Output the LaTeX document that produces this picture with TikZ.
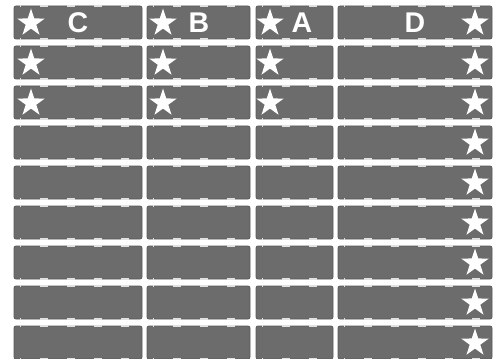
\documentclass[tikz,border=0pt]{standalone}
\usepackage{fontspec}
\setmainfont{Liberation Sans}
\usetikzlibrary{shapes.geometric}
\definecolor{tilefill}{RGB}{108,108,108}
\definecolor{tileedge}{RGB}{90,90,90}
\definecolor{notchcol}{RGB}{225,225,225}
\tikzset{
  tile/.style={fill=tilefill, draw=tileedge, line width=0.8pt, rounded corners=2pt},
  notch/.style={draw=notchcol, line width=1.8pt, dash pattern=on 8pt off 19pt, dash phase=-20pt},
  wstar/.style={star, star points=5, star point ratio=2.6, fill=white, minimum size=29pt, inner sep=0pt},
  lbl/.style={text=white, font=\fontsize{28.5}{28.5}\selectfont\bfseries, inner sep=0pt, anchor=base},
}
\begin{document}
\begin{tikzpicture}[x=1pt,y=-1pt]
\useasboundingbox (0,0) rectangle (502,358);
\clip (0,0) rectangle (502,358);
\fill[white] (0,0) rectangle (502,358);
\foreach \r in {0,...,8} {
  \foreach \xa/\xb/\c in {14/142/C,147/250/B,256/333/A,338/492/D} {
    \path[tile] (\xa,6+40*\r) rectangle (\xb,39+40*\r);
    \path[notch] (\xa+6,6+40*\r) -- (\xb-6,6+40*\r);
    \path[notch] (\xa+6,39+40*\r) -- (\xb-6,39+40*\r);
  }
}
\foreach \r in {0,1,2} {
  \node[wstar] (sc\r) at (31,23+40*\r) {};
  \node[wstar] (sb\r) at (163,23+40*\r) {};
  \node[wstar] (sa\r) at (270,23+40*\r) {};
}
\foreach \r in {0,...,8} {
  \node[wstar] (sd\r) at (475,23+40*\r) {};
}
\node[lbl] (lc) at (78,32.5) {C};
\node[lbl] (lb) at (199,32.5) {B};
\node[lbl] (la) at (302,32.5) {A};
\node[lbl] (ld) at (415,32.5) {D};
\end{tikzpicture}
\end{document}
